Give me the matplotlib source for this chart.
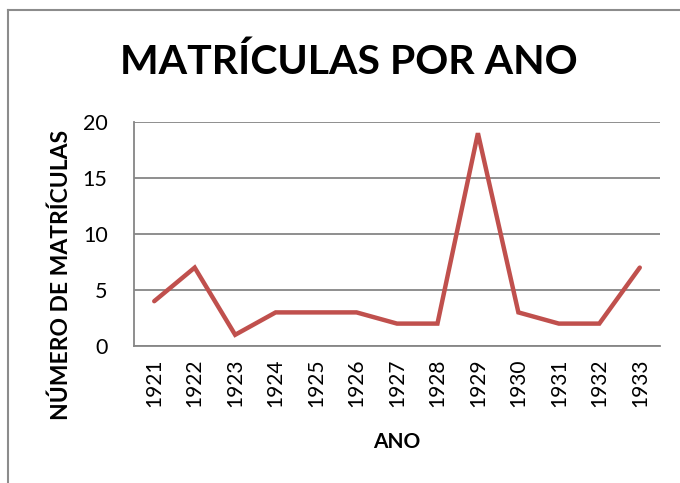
import matplotlib
matplotlib.use('Agg')
import matplotlib.pyplot as plt
from matplotlib.lines import Line2D

anos = ['1921', '1922', '1923', '1924', '1925', '1926', '1927', '1928',
        '1929', '1930', '1931', '1932', '1933']
matriculas = [4, 7, 1, 3, 3, 3, 2, 2, 19, 3, 2, 2, 7]
yticks = [0, 5, 10, 15, 20]

plt.rcParams['font.family'] = ['Lato', 'DejaVu Sans']

W, H = 680, 483
fig = plt.figure(figsize=(W / 100, H / 100), dpi=100)
# area do gráfico em pixels: x 134..660, y 122..346
ax = fig.add_axes([134 / W, 1 - 346 / H, (660 - 134) / W, (346 - 122) / H])

x = list(range(len(anos)))
ax.plot(x, matriculas, color='#C0504D', lw=3.2, solid_joinstyle='miter',
        solid_capstyle='round', zorder=3)

ax.set_xlim(-0.5, len(anos) - 0.5)
ax.set_ylim(0, 20)
ax.set_yticks(yticks)
ax.set_xticks(x)
ax.set_xticklabels(anos, rotation=90, fontsize=15)
ax.tick_params(axis='y', labelsize=15.5, length=0, pad=19)
ax.tick_params(axis='x', length=0, pad=9)
ax.grid(axis='y', color='#868686', lw=1.3)
ax.set_axisbelow(True)
for s in ['top', 'right']:
    ax.spines[s].set_visible(False)
ax.spines['left'].set_color('#868686')
ax.spines['bottom'].set_color('#868686')
ax.spines['left'].set_linewidth(1.3)
ax.spines['bottom'].set_linewidth(1.3)

ax.set_ylabel('NÚMERO DE MATRÍCULAS', fontsize=16.5, fontweight='bold')
ax.yaxis.set_label_coords(-0.118, 0.317)
ax.set_xlabel('ANO', fontsize=15, fontweight='bold', labelpad=18)

fig.text(349 / W, 1 - 62 / H, 'MATRÍCULAS POR ANO', fontsize=29.5, fontweight='bold',
         ha='center', va='center')

# moldura do gráfico
fig.add_artist(Line2D([8 / W, 8 / W], [0, 1 - 10 / H], color='#8c8c8c', lw=1.5))
fig.add_artist(Line2D([8 / W, 1], [1 - 10 / H, 1 - 10 / H], color='#8c8c8c', lw=1.5))

fig.savefig('out.png', dpi=100)
